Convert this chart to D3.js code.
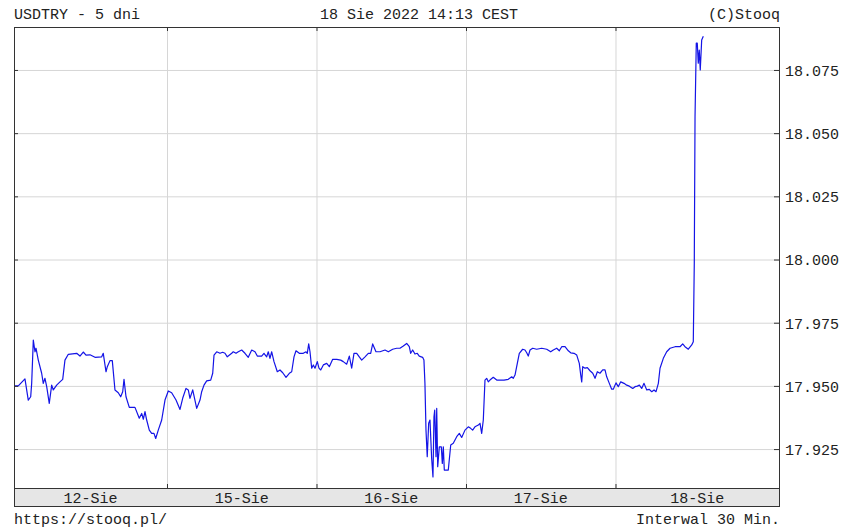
<!DOCTYPE html>
<html>
<head>
<meta charset="utf-8">
<script src="https://cdn.jsdelivr.net/npm/d3@7"></script>
<style>
  body { margin: 0; background: #fff; }
  text { font-family: "Liberation Mono", "DejaVu Sans Mono", monospace; font-size: 15px; fill: #222; }
</style>
</head>
<body>
<div id="chart"></div>
<script>
// Day labels and day boundaries (hours from start of 12-Sie session)
const days = ["12-Sie", "15-Sie", "16-Sie", "17-Sie", "18-Sie"];
const dayBreaks = [24, 48, 72, 96];
const xRange = [-0.56, 122.25];

// Price ticks
const yTicks = [17.925, 17.950, 17.975, 18.000, 18.025, 18.050, 18.075];
const yRange = [17.9096, 18.092];

// USDTRY quotes: [hour, rate]
const series = [
  [-0.40,17.9500],[0.13,17.9500],[1.20,17.9528],[1.73,17.9444],[2.12,17.9457],[2.28,17.9511],[2.54,17.9681],[2.81,17.9635],
  [2.97,17.9649],[3.34,17.9602],[3.88,17.9550],[4.14,17.9510],[4.41,17.9530],[4.69,17.9497],[5.10,17.9431],[5.49,17.9503],
  [5.75,17.9484],[6.29,17.9503],[6.82,17.9516],[7.26,17.9526],[7.62,17.9602],[8.16,17.9625],[9.50,17.9629],[10.03,17.9618],
  [10.56,17.9634],[11.00,17.9622],[11.64,17.9623],[12.44,17.9613],[13.52,17.9615],[13.77,17.9629],[14.21,17.9556],[14.42,17.9576],
  [14.85,17.9600],[15.22,17.9600],[15.65,17.9484],[16.18,17.9473],[16.57,17.9457],[16.89,17.9477],[17.10,17.9526],[17.42,17.9457],
  [17.95,17.9415],[18.86,17.9415],[19.55,17.9372],[19.94,17.9391],[20.20,17.9368],[20.47,17.9398],[20.74,17.9365],[21.16,17.9325],
  [21.54,17.9312],[21.91,17.9312],[22.19,17.9292],[22.60,17.9325],[23.15,17.9365],[23.68,17.9444],[24.21,17.9480],[24.75,17.9473],
  [25.45,17.9444],[26.09,17.9407],[26.52,17.9451],[27.05,17.9490],[27.42,17.9484],[27.69,17.9451],[28.13,17.9484],[28.77,17.9411],
  [29.30,17.9444],[29.57,17.9477],[29.94,17.9503],[30.37,17.9520],[31.02,17.9523],[31.34,17.9550],[31.55,17.9622],[31.98,17.9635],
  [32.51,17.9629],[32.94,17.9633],[33.31,17.9629],[33.68,17.9615],[34.39,17.9629],[34.64,17.9635],[35.08,17.9629],[35.45,17.9635],
  [35.99,17.9642],[36.52,17.9629],[37.05,17.9613],[37.60,17.9642],[38.13,17.9635],[38.50,17.9618],[39.20,17.9618],[39.57,17.9629],
  [40.00,17.9615],[40.26,17.9635],[40.53,17.9609],[40.81,17.9635],[41.18,17.9596],[41.71,17.9556],[42.14,17.9563],[42.58,17.9552],
  [43.11,17.9534],[43.64,17.9550],[44.02,17.9556],[44.39,17.9615],[44.71,17.9639],[45.24,17.9629],[45.88,17.9629],[46.32,17.9635],
  [46.52,17.9629],[46.75,17.9666],[46.96,17.9635],[47.23,17.9570],[47.49,17.9583],[47.76,17.9570],[48.13,17.9596],[48.40,17.9570],
  [48.68,17.9563],[49.10,17.9583],[49.64,17.9589],[50.06,17.9576],[50.60,17.9605],[51.25,17.9605],[51.89,17.9602],[52.30,17.9596],
  [52.85,17.9586],[53.27,17.9618],[53.65,17.9570],[54.02,17.9629],[54.46,17.9629],[54.87,17.9615],[55.26,17.9602],[55.79,17.9615],
  [56.32,17.9629],[56.70,17.9629],[57.02,17.9666],[57.55,17.9635],[58.20,17.9635],[59.00,17.9642],[59.53,17.9635],[60.23,17.9645],
  [60.87,17.9649],[61.40,17.9649],[61.94,17.9658],[62.48,17.9668],[62.90,17.9655],[63.12,17.9629],[63.44,17.9642],[63.81,17.9626],
  [64.18,17.9629],[64.50,17.9618],[65.04,17.9613],[65.25,17.9602],[65.41,17.9510],[65.58,17.9325],[65.78,17.9220],[66.01,17.9352],
  [66.22,17.9365],[66.49,17.9213],[66.70,17.9140],[66.86,17.9378],[66.98,17.9404],[67.19,17.9220],[67.30,17.9411],[67.46,17.9180],
  [67.72,17.9259],[68.04,17.9259],[68.20,17.9193],[68.36,17.9259],[68.52,17.9167],[68.91,17.9167],[69.16,17.9167],[69.55,17.9266],
  [69.96,17.9273],[70.51,17.9299],[70.93,17.9312],[71.31,17.9296],[71.84,17.9325],[72.37,17.9338],[72.75,17.9332],[73.07,17.9325],
  [73.44,17.9338],[73.98,17.9345],[74.25,17.9352],[74.52,17.9312],[74.78,17.9365],[75.05,17.9523],[75.32,17.9530],[75.58,17.9516],
  [75.85,17.9523],[76.38,17.9534],[76.93,17.9523],[78.10,17.9523],[78.79,17.9526],[79.34,17.9536],[79.59,17.9530],[79.87,17.9543],
  [80.24,17.9589],[80.56,17.9629],[81.10,17.9645],[81.47,17.9642],[81.75,17.9631],[82.00,17.9618],[82.28,17.9642],[82.71,17.9649],
  [83.35,17.9645],[84.15,17.9649],[84.96,17.9645],[85.60,17.9635],[86.02,17.9642],[86.56,17.9649],[86.98,17.9639],[87.37,17.9655],
  [87.90,17.9655],[88.43,17.9639],[88.81,17.9631],[89.34,17.9629],[89.78,17.9622],[90.19,17.9589],[90.42,17.9543],[90.58,17.9516],
  [90.74,17.9576],[91.11,17.9570],[91.48,17.9572],[91.91,17.9560],[92.35,17.9550],[92.72,17.9530],[93.09,17.9556],[93.51,17.9550],
  [93.95,17.9563],[94.32,17.9563],[94.59,17.9536],[95.01,17.9510],[95.39,17.9487],[95.65,17.9487],[96.08,17.9512],[96.45,17.9497],
  [96.84,17.9516],[97.37,17.9510],[97.80,17.9503],[98.22,17.9499],[98.77,17.9490],[99.14,17.9497],[99.51,17.9499],[99.83,17.9503],
  [100.21,17.9490],[100.58,17.9510],[101.02,17.9484],[101.43,17.9486],[101.82,17.9477],[102.19,17.9484],[102.51,17.9477],[102.88,17.9510],
  [103.15,17.9570],[103.68,17.9609],[104.22,17.9635],[104.76,17.9649],[105.56,17.9655],[106.36,17.9655],[106.79,17.9666],[107.16,17.9655],
  [107.69,17.9645],[108.24,17.9662],[108.49,17.9675],[108.65,17.9985],[108.77,18.0565],[108.97,18.0856],[109.13,18.0856],[109.29,18.0777],
  [109.45,18.0829],[109.61,18.0750],[109.84,18.0869],[110.10,18.0883]
];

const width = 852;
const height = 532;
const plot = { left: 14, right: 779, top: 27, bottom: 488 };
const bandH = 18;

const svg = d3.select("#chart")
  .append("svg")
  .attr("width", width)
  .attr("height", height);

const x = d3.scaleLinear().domain(xRange).range([plot.left, plot.right]);
const y = d3.scaleLinear().domain(yRange).range([plot.bottom, plot.top]);

// Horizontal grid
svg.append("g")
  .attr("transform", `translate(${plot.left},0)`)
  .call(d3.axisLeft(y).tickValues(yTicks).tickSize(-(plot.right - plot.left)).tickFormat(""))
  .call(g => g.select(".domain").remove())
  .call(g => g.selectAll("line").attr("stroke", "#d6d6d6"));

// Vertical grid at day breaks
svg.append("g")
  .attr("transform", `translate(0,${plot.bottom})`)
  .call(d3.axisBottom(x).tickValues(dayBreaks).tickSize(-(plot.bottom - plot.top)).tickFormat(""))
  .call(g => g.select(".domain").remove())
  .call(g => g.selectAll("line").attr("stroke", "#d6d6d6"));

// Price line
svg.append("path")
  .datum(series)
  .attr("fill", "none")
  .attr("stroke", "#1414e6")
  .attr("stroke-width", 1.2)
  .attr("stroke-linejoin", "round")
  .attr("d", d3.line().x(d => x(d[0])).y(d => y(d[1])));

// Small inner tick marks on all four sides
const tickColor = "#333";
svg.append("g").attr("transform", `translate(${plot.left},0)`)
  .call(d3.axisLeft(y).tickValues(yTicks).tickSize(-4).tickFormat(""))
  .call(g => g.select(".domain").remove())
  .call(g => g.selectAll("line").attr("stroke", tickColor));
svg.append("g").attr("transform", `translate(${plot.right},0)`)
  .call(d3.axisRight(y).tickValues(yTicks).tickSize(-5).tickFormat(""))
  .call(g => g.select(".domain").remove())
  .call(g => g.selectAll("line").attr("stroke", tickColor));
svg.append("g").attr("transform", `translate(0,${plot.top})`)
  .call(d3.axisTop(x).tickValues(dayBreaks).tickSize(-4).tickFormat(""))
  .call(g => g.select(".domain").remove())
  .call(g => g.selectAll("line").attr("stroke", tickColor));
svg.append("g").attr("transform", `translate(0,${plot.bottom})`)
  .call(d3.axisBottom(x).tickValues(dayBreaks).tickSize(-4).tickFormat(""))
  .call(g => g.select(".domain").remove())
  .call(g => g.selectAll("line").attr("stroke", tickColor));

// Price labels on the right
svg.append("g")
  .attr("transform", `translate(${plot.right},0)`)
  .call(d3.axisRight(y).tickValues(yTicks).tickSize(0).tickPadding(6).tickFormat(d3.format(".3f")))
  .call(g => g.select(".domain").remove())
  .call(g => g.selectAll("text").attr("dy", "0.36em"));

// Date band
svg.append("rect")
  .attr("x", plot.left + 0.5)
  .attr("y", plot.bottom + 0.5)
  .attr("width", plot.right - plot.left)
  .attr("height", bandH)
  .attr("fill", "#e6e6e6")
  .attr("stroke", "#333");

const edges = [xRange[0], ...dayBreaks, xRange[1]];
svg.append("g")
  .selectAll("text")
  .data(days)
  .join("text")
  .attr("x", (d, i) => (x(edges[i]) + x(edges[i + 1])) / 2)
  .attr("y", plot.bottom + 15)
  .attr("text-anchor", "middle")
  .text(d => d);

// Plot frame
svg.append("rect")
  .attr("x", plot.left + 0.5)
  .attr("y", plot.top + 0.5)
  .attr("width", plot.right - plot.left)
  .attr("height", plot.bottom - plot.top + bandH)
  .attr("fill", "none")
  .attr("stroke", "#333");

// Header and footer texts
svg.append("text").attr("x", 14).attr("y", 19).text("USDTRY - 5 dni");
svg.append("text").attr("x", 320).attr("y", 19).text("18 Sie 2022 14:13 CEST");
svg.append("text").attr("x", 780).attr("y", 19).attr("text-anchor", "end").text("(C)Stooq");
svg.append("text").attr("x", 14).attr("y", 524).text("https://stooq.pl/");
svg.append("text").attr("x", 780).attr("y", 524).attr("text-anchor", "end").text("Interwal 30 Min.");
</script>
</body>
</html>
